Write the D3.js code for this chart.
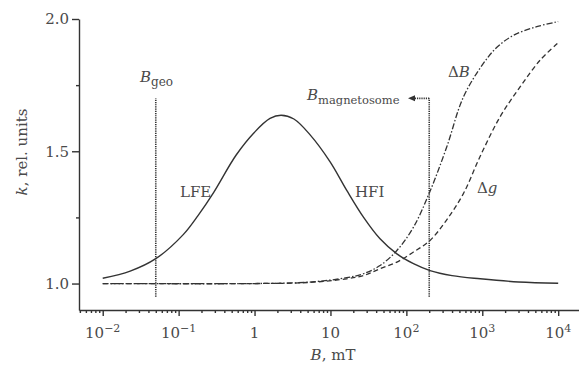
<!DOCTYPE html>
<html>
<head>
<meta charset="utf-8">
<script src="https://cdn.jsdelivr.net/npm/d3@7"></script>
<style>
  body { margin: 0; background: #fff; }
  svg text { font-family: "DejaVu Serif", serif; fill: #4a4a4a; }
  .axis path, .axis line { stroke: #333; stroke-width: 1.4; }
</style>
</head>
<body>
<svg id="chart" width="579" height="365"></svg>
<script>
// values (B in mT, k in rel. units)
var solidB = [0.01, 0.023, 0.05, 0.115, 0.18, 0.29, 0.57, 1.0, 1.6, 2.24, 3.3, 5.4, 9.9, 16.4, 27.2, 45, 75, 124, 205, 400, 940, 3000, 10000];
var solidK = [1.020, 1.047, 1.094, 1.185, 1.257, 1.345, 1.485, 1.572, 1.624, 1.636, 1.622, 1.562, 1.46, 1.352, 1.251, 1.169, 1.112, 1.075, 1.049, 1.03, 1.018, 1.006, 1.001];

var dBB = [0.01, 1, 5, 16.4, 27.2, 45, 75, 124, 205, 340, 564, 1033, 1585, 2570, 5220, 10000];
var dBK = [1.0, 1.0, 1.005, 1.022, 1.037, 1.068, 1.125, 1.213, 1.349, 1.516, 1.705, 1.832, 1.895, 1.938, 1.971, 1.99];

var dgB = [0.01, 1, 5, 16.4, 27.2, 45, 75, 124, 205, 340, 564, 935, 1714, 3162, 5800, 10000];
var dgK = [1.0, 1.0, 1.004, 1.018, 1.03, 1.056, 1.081, 1.119, 1.163, 1.241, 1.34, 1.48, 1.63, 1.744, 1.845, 1.91];

var xTickExp = [-2, -1, 0, 1, 2, 3, 4];
var yMajor = [1.0, 1.5, 2.0];
var yMinor = [1.25, 1.75];

var bGeo = 0.05, bMag = 200, bArrowTip = 105;
var markerK = [0.95, 1.70];

var svg = d3.select("#chart");

var x = d3.scaleLog().domain([0.00487, 18800]).range([79, 579]);
var y = d3.scaleLinear().domain([0.9, 2.0]).range([310, 19]);

// minor ticks on x: 2..9 of each decade
var xMinor = [];
for (var e = -3; e <= 3; e++) {
  for (var m = 2; m <= 9; m++) {
    var v = m * Math.pow(10, e);
    if (v >= x.domain()[0] && v <= x.domain()[1]) xMinor.push(v);
  }
}

var gx = svg.append("g").attr("class", "axis").attr("transform", "translate(0,310)");
gx.call(d3.axisBottom(x).tickValues(xMinor).tickSize(3).tickSizeOuter(0).tickFormat(""));
var gxMaj = svg.append("g").attr("class", "axis").attr("transform", "translate(0,310)");
gxMaj.call(d3.axisBottom(x).tickValues(xTickExp.map(function(d) { return Math.pow(10, d); }))
  .tickSize(6).tickSizeOuter(0).tickFormat(""));
gxMaj.select(".domain").remove();

// decade labels
xTickExp.forEach(function(ex) {
  var t = svg.append("text")
    .attr("x", x(Math.pow(10, ex)))
    .attr("y", 338)
    .attr("text-anchor", "middle")
    .style("font-size", "15px");
  if (ex === 0) t.text("1");
  else if (ex === 1) t.text("10");
  else {
    t.append("tspan").text("10");
    t.append("tspan").attr("dy", -6).style("font-size", "11px")
      .text(ex < 0 ? "\u2212" + (-ex) : String(ex));
  }
});

var gy = svg.append("g").attr("class", "axis").attr("transform", "translate(79,0)");
gy.call(d3.axisLeft(y).tickValues(yMinor).tickSize(3).tickSizeOuter(0).tickFormat(""));
var gyMaj = svg.append("g").attr("class", "axis").attr("transform", "translate(79,0)");
gyMaj.call(d3.axisLeft(y).tickValues(yMajor).tickSize(7).tickSizeOuter(0).tickFormat(d3.format(".1f")));
gyMaj.select(".domain").remove();
gyMaj.selectAll("text").style("font-size", "15px").style("font-family", "DejaVu Serif").attr("fill", "#4a4a4a");
gx.selectAll("text").remove();

// axis titles
svg.append("text")
  .attr("transform", "translate(27,152) rotate(-90)")
  .attr("text-anchor", "middle")
  .style("font-size", "15px")
  .call(function(t) {
    t.append("tspan").style("font-style", "italic").text("k");
    t.append("tspan").text(", rel. units");
  });

svg.append("text")
  .attr("x", 333).attr("y", 360)
  .attr("text-anchor", "middle")
  .style("font-size", "15px")
  .call(function(t) {
    t.append("tspan").style("font-style", "italic").text("B");
    t.append("tspan").text(", mT");
  });

// curves
function toPts(bs, ks) { return bs.map(function(b, i) { return [b, ks[i]]; }); }
var line = d3.line()
  .x(function(d) { return x(d[0]); })
  .y(function(d) { return y(d[1]); })
  .curve(d3.curveCatmullRom.alpha(0.5));

svg.append("path").datum(toPts(dgB, dgK))
  .attr("d", line).attr("fill", "none").attr("stroke", "#333")
  .attr("stroke-width", 1.3).attr("stroke-dasharray", "5,3");

svg.append("path").datum(toPts(dBB, dBK))
  .attr("d", line).attr("fill", "none").attr("stroke", "#333")
  .attr("stroke-width", 1.3).attr("stroke-dasharray", "6,2,1.5,2");

svg.append("path").datum(toPts(solidB, solidK))
  .attr("d", line).attr("fill", "none").attr("stroke", "#333")
  .attr("stroke-width", 1.4);

// marker lines
[bGeo, bMag].forEach(function(b) {
  svg.append("line")
    .attr("x1", x(b)).attr("x2", x(b))
    .attr("y1", y(markerK[0])).attr("y2", y(markerK[1]))
    .attr("stroke", "#333").attr("stroke-width", 1.6).attr("stroke-dasharray", "1.2,1");
});

svg.append("line")
  .attr("x1", x(bMag)).attr("x2", x(bArrowTip) + 5)
  .attr("y1", y(markerK[1])).attr("y2", y(markerK[1]))
  .attr("stroke", "#333").attr("stroke-width", 1.6).attr("stroke-dasharray", "1.2,1");

var ax = x(bArrowTip), ay = y(markerK[1]);
svg.append("path")
  .attr("d", "M" + ax + "," + ay + " L" + (ax + 7) + "," + (ay - 3) + " L" + (ax + 7) + "," + (ay + 3) + " Z")
  .attr("fill", "#333");

// labels
svg.append("text").attr("x", 140).attr("y", 82).style("font-size", "15px")
  .call(function(t) {
    t.append("tspan").style("font-style", "italic").text("B");
    t.append("tspan").attr("dy", 4).style("font-size", "12px").text("geo");
  });

svg.append("text").attr("x", 307).attr("y", 100).style("font-size", "15px")
  .call(function(t) {
    t.append("tspan").style("font-style", "italic").text("B");
    t.append("tspan").attr("dy", 4).style("font-size", "11.5px").text("magnetosome");
  });

svg.append("text").attr("x", 180).attr("y", 197).style("font-size", "15px").text("LFE");
svg.append("text").attr("x", 355).attr("y", 197).style("font-size", "15px").text("HFI");

svg.append("text").attr("x", 448).attr("y", 77).style("font-size", "15px")
  .call(function(t) {
    t.append("tspan").text("\u0394");
    t.append("tspan").style("font-style", "italic").text("B");
  });

svg.append("text").attr("x", 477).attr("y", 193).style("font-size", "15px")
  .call(function(t) {
    t.append("tspan").text("\u0394");
    t.append("tspan").style("font-style", "italic").text("g");
  });
</script>
</body>
</html>
